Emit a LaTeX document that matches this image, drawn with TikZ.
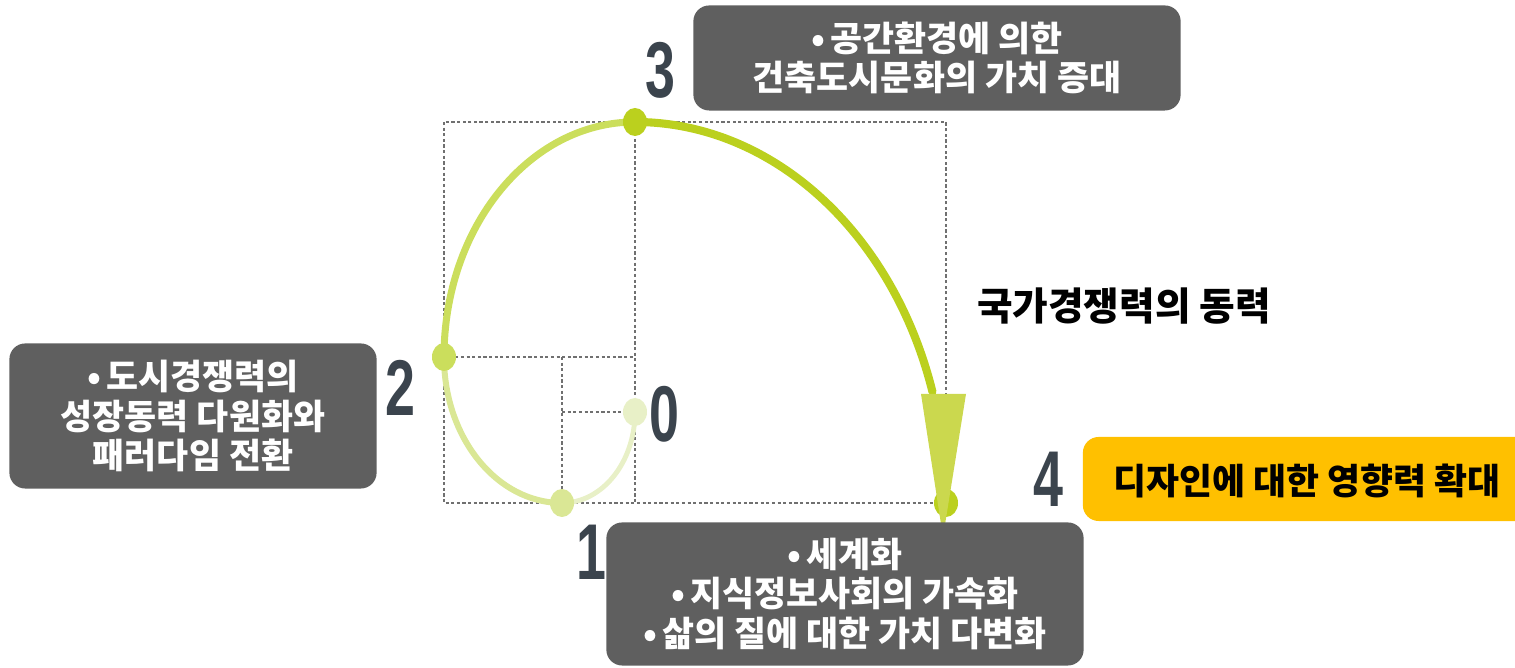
\documentclass[tikz,border=0pt]{standalone}
\usepackage{fontspec}
\newfontfamily\kr{Noto Sans CJK KR}
\newfontfamily\numfont{Liberation Sans}
\definecolor{boxgray}{HTML}{5F5F5F}
\definecolor{goldbox}{HTML}{FFC000}
\definecolor{numgray}{HTML}{3B444D}
\definecolor{dotgray}{HTML}{707070}
\definecolor{leaf0}{HTML}{E8F0C7}
\definecolor{leaf1}{HTML}{DAE795}
\definecolor{leaf2}{HTML}{CBDE5C}
\definecolor{leaf3}{HTML}{BBD01E}
\definecolor{arrowgreen}{HTML}{CBD84E}

\begin{document}
\begin{tikzpicture}[x=0.01cm, y=-0.01cm]
    \tikzstyle{note}=[fill=boxgray, rounded corners=4.5pt, text=white, align=center, inner sep=0pt, font=\kr\bfseries\fontsize{9.9}{11.3}\selectfont]
    \tikzstyle{stage}=[text=numgray, inner sep=0pt, xscale=0.68, font=\numfont\bfseries\fontsize{22.5}{22.5}\selectfont]
    \tikzstyle{guide}=[draw=dotgray, line width=0.5pt, dash pattern=on 0.9pt off 0.7pt]
    \tikzstyle{turn}=[line cap=round]
    \tikzstyle{dot}=[x radius=12, y radius=14]

    \useasboundingbox (0,0) rectangle (1515,668);

    % golden rectangles
    \draw[guide] (444,122) rectangle (946,503);
    \draw[guide] (635,122) -- (635,503);
    \draw[guide] (444,357) -- (635,357);
    \draw[guide] (562,357) -- (562,503);
    \draw[guide] (562,412) -- (635,412);

    \coordinate (p0) at (635,412);
    \coordinate (p1) at (562,503);
    \coordinate (p2) at (444,357);
    \coordinate (p3) at (635,122);
    \coordinate (p4) at (946,503);

    % spiral
    \draw[turn, leaf0, line width=1.4pt] (p0) arc[start angle=0, end angle=90, x radius=73, y radius=91];
    \draw[turn, leaf1, line width=1.7pt] (p1) arc[start angle=90, end angle=180, x radius=118, y radius=146];
    \draw[turn, leaf2, line width=2pt] (p2) arc[start angle=180, end angle=270, x radius=191, y radius=235];
    \draw[turn, leaf3, line width=2.3pt] (p3) arc[start angle=270, end angle=343, x radius=311, y radius=381];

    \fill[leaf0] (p0) ellipse[dot];
    \fill[leaf1] (p1) ellipse[dot];
    \fill[leaf2] (p2) ellipse[dot];
    \fill[leaf3] (p3) ellipse[dot];
    \fill[leaf3] (p4) ellipse[dot];

    % arrow
    \coordinate (tip) at (943,537);
    \fill[arrowgreen] (921,394) -- (966,394) -- (tip) -- cycle;

    \node[stage] (n3) at (660,70) {3};
    \node[stage] (n2) at (400,388) {2};
    \node[stage] (n0) at (664,414) {0};
    \node[stage] (n1) at (591,552) {1};
    \node[stage] (n4) at (1048,479) {4};

    \node[note, minimum width=4.87cm, minimum height=1.05cm] (value) at (937,58) {•\,공간환경에 의한\\ 건축도시문화의 가치 증대};
    \node[note, minimum width=3.67cm, minimum height=1.45cm] (city) at (193,416) {•\,도시경쟁력의\\ 성장동력 다원화와\\ 패러다임 전환};
    \node[note, minimum width=4.77cm, minimum height=1.43cm] (world) at (845,594) {•\,세계화\\ •\,지식정보사회의 가속화\\ •\,삶의 질에 대한 가치 다변화};
    \node[fill=goldbox, rounded corners=4.5pt, minimum width=4.48cm, minimum height=0.84cm, inner sep=0pt] (goldbg) at (1307,479) {};
    \node[font=\kr\bfseries\fontsize{10.2}{12}\selectfont] (design) at (1307,481) {디자인에 대한 영향력 확대};
    \node[font=\kr\bfseries\fontsize{11}{12}\selectfont] (drive) at (1124,306) {국가경쟁력의 동력};
\end{tikzpicture}
\end{document}
